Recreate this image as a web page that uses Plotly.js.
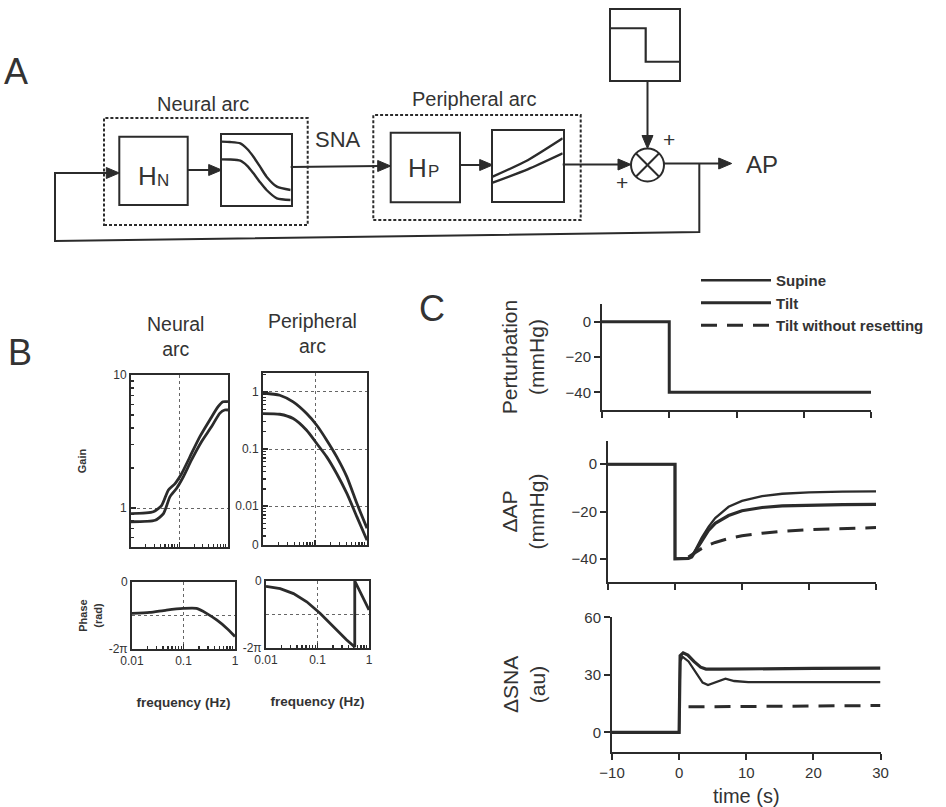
<!DOCTYPE html>
<html><head><meta charset="utf-8">
<script src="https://cdn.plot.ly/plotly-3.0.1.min.js"></script>
<style>html,body{margin:0;padding:0;background:#fff;}#chart{width:946px;height:807px;}</style>
</head><body><div id="chart"></div>
<script>
const W = 946, H = 807;
const P = x => x / W;
const Q = y => 1 - y / H;
const ink = '#2b2b2b';
const txtc = '#333';

// ---------- Panel A: schematic curves (normalised box units) ----------
const sigX = [0, 0.12, 0.27, 0.37, 0.46, 0.56, 0.65, 0.8, 1];
const sigUpper = [0.905, 0.9, 0.881, 0.8, 0.69, 0.54, 0.405, 0.262, 0.214];
const sigLower = [0.652, 0.65, 0.633, 0.56, 0.452, 0.32, 0.214, 0.095, 0.071];
const linX = [0, 0.5, 1];
const linUpper = [0.346, 0.58, 0.891];
const linLower = [0.261, 0.45, 0.678];
const stepX = [0, 0.51, 0.51, 1];
const stepY = [0.739, 0.739, 0.261, 0.261];

// ---------- Panel B: frequency responses ----------
const fNeuralUpper = [0.01, 0.029, 0.043, 0.059, 0.081, 0.111, 0.164, 0.263, 0.421, 0.624, 0.79, 1];
const gNeuralUpper = [0.91, 0.94, 1.05, 1.37, 1.53, 1.82, 2.43, 3.44, 4.59, 5.78, 6.3, 6.3];
const fNeuralLower = [0.01, 0.0315, 0.0467, 0.0638, 0.0874, 0.12, 0.177, 0.284, 0.456, 0.675, 0.855, 1];
const gNeuralLower = [0.79, 0.81, 0.91, 1.22, 1.41, 1.72, 2.3, 3.15, 4.08, 5.15, 5.46, 5.46];
const fPeriph = [0.01, 0.021, 0.038, 0.069, 0.108, 0.168, 0.262, 0.41, 0.64, 1];
const gPeriphUpper = [0.96, 0.875, 0.668, 0.418, 0.261, 0.143, 0.073, 0.0326, 0.0111, 0.0041];
const gPeriphLower = [0.418, 0.407, 0.342, 0.213, 0.125, 0.073, 0.037, 0.0167, 0.0065, 0.00254];
const fPhaseNeural = [0.01, 0.022, 0.0467, 0.0986, 0.179, 0.28, 0.44, 0.689, 1];
const phNeural = [-2.94, -2.85, -2.63, -2.48, -2.48, -2.94, -3.56, -4.33, -5.11];
const fPhasePeriph = [0.01, 0.0189, 0.0342, 0.0618, 0.112, 0.202, 0.365, 0.529, 0.529, 1];
const phPeriph = [-0.495, -0.71, -1.18, -1.95, -3.03, -4.27, -5.51, -6.19, 0, -2.72];

const freqTicks = [0.01, 0.1, 1];
const freqTickText = ['0.01', '0.1', '1'];
const freqMinor = [0.02, 0.03, 0.04, 0.05, 0.06, 0.07, 0.08, 0.09, 0.2, 0.3, 0.4, 0.5, 0.6, 0.7, 0.8, 0.9];
const neuralGainTicks = [1, 10];
const neuralGainTickText = ['1', '10'];
const neuralGainMinor = [0.6, 0.7, 0.8, 0.9, 2, 3, 4, 5, 6, 7, 8, 9];
const periphGainTicks = [0.0021, 0.01, 0.1, 1];
const periphGainTickText = ['0', '0.01', '0.1', '1'];
const periphGainMinor = [0.003, 0.004, 0.005, 0.006, 0.007, 0.008, 0.009, 0.02, 0.03, 0.04, 0.05, 0.06, 0.07, 0.08, 0.09, 0.2, 0.3, 0.4, 0.5, 0.6, 0.7, 0.8, 0.9, 2];
const phaseTicks = [-2 * Math.PI, 0];
const phaseTickText = ['-2π', '0'];
const phaseGrid = -Math.PI;

// ---------- Panel C: time responses ----------
const tPerturb = [-10, 0, 0, 30];
const perturbation = [0, 0, -40, -40];
const tAP = [-10, 0, 0, 1, 2, 2.5, 3, 4, 5, 6, 8, 10, 13, 16, 20, 25, 30];
const apSupine = [0, 0, -40, -40, -39.8, -38.9, -36.5, -31, -26.5, -22.8, -18, -15.5, -13.5, -12.5, -11.9, -11.6, -11.5];
const apTilt = [0, 0, -40, -40, -39.8, -39.2, -37, -32, -28, -25, -21.7, -19.7, -18.3, -17.6, -17.3, -17.1, -17];
const tAPnr = [2, 3, 4, 5, 6, 8, 10, 13, 16, 20, 25, 30];
const apTiltNoReset = [-39.3, -37.5, -35.6, -34.2, -33.1, -31.4, -30.3, -29.2, -28.4, -27.7, -27.2, -26.8];
const tSnaSupine = [-10, 0, 0.15, 0.5, 1.4, 2.5, 3.5, 4.3, 5.3, 6.9, 8.2, 10.3, 20, 30];
const snaSupine = [0, 0, 37, 39.5, 37, 31, 26, 24.7, 26, 28, 26.8, 26.2, 26.2, 26.2];
const tSnaTilt = [-10, 0, 0.15, 0.6, 1.3, 2.2, 3.2, 4, 6, 10, 20, 30];
const snaTilt = [0, 0, 40, 41.5, 40.3, 37, 34, 33, 33, 33.2, 33.4, 33.5];
const tSnaNr = [1.4, 15, 30];
const snaTiltNoReset = [13.3, 13.7, 14.0];
const timeTicks = [-10, 0, 10, 20, 30];
const pressureTicks = [0, -20, -40];
const snaTicks = [0, 30, 60];

const wSupine = 2.3, wTilt = 3.2, wB = 2.8;
const dashNR = '16px,10px';

function tr(x, y, xa, ya, opts) {
  return Object.assign({type: 'scatter', mode: 'lines', x, y, xaxis: xa, yaxis: ya,
    line: {color: ink, width: 2.6}, showlegend: false, hoverinfo: 'skip'}, opts || {});
}
const sp = {shape: 'spline', smoothing: 0.6};

const data = [
  tr(tPerturb, perturbation, 'x', 'y', {name: 'Perturbation', line: {color: ink, width: 3}}),
  tr(tAP, apSupine, 'x2', 'y2', {name: 'Supine', showlegend: true, line: {color: ink, width: wSupine}}),
  tr(tAP, apTilt, 'x2', 'y2', {name: 'Tilt', showlegend: true, line: {color: ink, width: wTilt}}),
  tr(tAPnr, apTiltNoReset, 'x2', 'y2', {name: 'Tilt without resetting', showlegend: true, line: {color: ink, width: 3, dash: dashNR}}),
  tr(tSnaSupine, snaSupine, 'x3', 'y3', {name: 'Supine', line: {color: ink, width: wSupine}}),
  tr(tSnaTilt, snaTilt, 'x3', 'y3', {name: 'Tilt', line: {color: ink, width: wTilt}}),
  tr(tSnaNr, snaTiltNoReset, 'x3', 'y3', {name: 'Tilt without resetting', line: {color: ink, width: 3, dash: dashNR}}),
  tr(fNeuralUpper, gNeuralUpper, 'x4', 'y4', {name: 'Neural gain 1', line: Object.assign({color: ink, width: wB}, sp)}),
  tr(fNeuralLower, gNeuralLower, 'x4', 'y4', {name: 'Neural gain 2', line: Object.assign({color: ink, width: wB}, sp)}),
  tr(fPeriph, gPeriphUpper, 'x5', 'y5', {name: 'Peripheral gain 1', line: Object.assign({color: ink, width: wB}, sp)}),
  tr(fPeriph, gPeriphLower, 'x5', 'y5', {name: 'Peripheral gain 2', line: Object.assign({color: ink, width: wB}, sp)}),
  tr(fPhaseNeural, phNeural, 'x6', 'y6', {name: 'Neural phase', line: Object.assign({color: ink, width: wB}, sp)}),
  tr(fPhasePeriph, phPeriph, 'x7', 'y7', {name: 'Peripheral phase', line: {color: ink, width: wB}}),
  tr(sigX, sigUpper, 'x8', 'y8', {name: 'sigmoid 1', line: Object.assign({color: ink, width: 2.4}, sp)}),
  tr(sigX, sigLower, 'x8', 'y8', {name: 'sigmoid 2', line: Object.assign({color: ink, width: 2.4}, sp)}),
  tr(linX, linUpper, 'x9', 'y9', {name: 'linear 1', line: Object.assign({color: ink, width: 2.4}, sp)}),
  tr(linX, linLower, 'x9', 'y9', {name: 'linear 2', line: Object.assign({color: ink, width: 2.4}, sp)}),
  tr(stepX, stepY, 'x10', 'y10', {name: 'step', line: {color: ink, width: 2.2}})
];

const xd = (a, b) => [P(a), P(b)];
const yd = (top, bot) => [Q(bot), Q(top)];
const FONT = 'Liberation Sans, Arial, Helvetica, sans-serif';

function cx(dom, anchor, labels, title) {
  const a = {domain: dom, anchor, range: [-10, 30], showline: true, linewidth: 2, linecolor: ink,
    ticks: 'outside', ticklen: 6, tickwidth: 2, tickcolor: ink, tickmode: 'array', tickvals: timeTicks,
    showticklabels: labels, showgrid: false, zeroline: false, tickfont: {size: 15, color: txtc}};
  if (title) a.title = {text: title, font: {size: 20, color: txtc}, standoff: 12};
  return a;
}
function cy(dom, anchor, range, vals, title, standoff) {
  return {domain: dom, anchor, range, showline: true, linewidth: 2, linecolor: ink,
    ticks: 'outside', ticklen: 6, tickwidth: 2, tickcolor: ink, tickmode: 'array', tickvals: vals,
    showgrid: false, zeroline: false, tickfont: {size: 15, color: txtc},
    title: {text: title, font: {size: 21, color: txtc}, standoff}};
}
function bx(dom, anchor, labels, title) {
  const a = {domain: dom, anchor, type: 'log', range: [-2, 0], showline: true, mirror: true,
    linewidth: 2, linecolor: ink, ticks: 'inside', ticklen: 5, tickwidth: 1.5, tickcolor: ink,
    tickmode: 'array', tickvals: freqTicks, ticktext: freqTickText, showticklabels: labels,
    minor: {tickmode: 'array', tickvals: freqMinor, ticks: 'inside', ticklen: 3, tickwidth: 1.2, tickcolor: ink, showgrid: false},
    showgrid: true, gridcolor: '#666', gridwidth: 1, griddash: 'dot', zeroline: false,
    tickfont: {size: 12, color: txtc}};
  if (title) a.title = {text: title, font: {size: 13.5, color: txtc, weight: 'bold'}, standoff: 30};
  return a;
}
function bgain(dom, anchor, range, vals, text, minorVals, title) {
  const a = {domain: dom, anchor, type: 'log', range, showline: true, mirror: true,
    linewidth: 2, linecolor: ink, ticks: 'inside', ticklen: 5, tickwidth: 1.5, tickcolor: ink,
    tickmode: 'array', tickvals: vals, ticktext: text,
    minor: {tickmode: 'array', tickvals: minorVals, ticks: 'inside', ticklen: 3, tickwidth: 1.2, tickcolor: ink, showgrid: false},
    showgrid: true, gridcolor: '#666', gridwidth: 1, griddash: 'dot', zeroline: false,
    tickfont: {size: 12, color: txtc}};
  if (title) a.title = {text: title, font: {size: 11, color: txtc, weight: 'bold'}, standoff: 24};
  return a;
}
function bphase(dom, anchor, title) {
  const a = {domain: dom, anchor, range: [-2 * Math.PI, 0], showline: true, mirror: true,
    linewidth: 2, linecolor: ink, ticks: '', tickmode: 'array', tickvals: phaseTicks, ticktext: phaseTickText,
    showgrid: false, zeroline: false, tickfont: {size: 12, color: txtc}};
  if (title) a.title = {text: title, font: {size: 11, color: txtc, weight: 'bold'}, standoff: 4};
  return a;
}
function mini(dom, anchor) {
  return {domain: dom, anchor, range: [0, 1], showline: true, mirror: true, linewidth: 2, linecolor: ink,
    ticks: '', showticklabels: false, showgrid: false, zeroline: false, fixedrange: true};
}

// ---------- schematic shapes (pixel positions converted to paper) ----------
function path(pts, opts) {
  return Object.assign({type: 'path', xref: 'paper', yref: 'paper', layer: 'above',
    path: 'M' + pts.map(p => P(p[0]).toFixed(5) + ',' + Q(p[1]).toFixed(5)).join('L'),
    line: {color: ink, width: 2}}, opts || {});
}
function head(tx, ty, dir) {
  const L = 13, h = 5.5;
  const pts = dir === 'r' ? [[tx, ty], [tx - L, ty - h], [tx - L, ty + h]] : [[tx, ty], [tx - h, ty - L], [tx + h, ty - L]];
  const s = path(pts, {fillcolor: ink, line: {color: ink, width: 1}});
  s.path += 'Z';
  return s;
}
function rect(x0, y0, x1, y1, opts) {
  return Object.assign({type: 'rect', xref: 'paper', yref: 'paper', x0: P(x0), x1: P(x1), y0: Q(y1), y1: Q(y0),
    line: {color: ink, width: 2}}, opts || {});
}
function phaseGridLine(xa, ya) {
  return {type: 'line', xref: xa + ' domain', yref: ya, x0: 0, x1: 1, y0: phaseGrid, y1: phaseGrid,
    line: {color: '#666', width: 1, dash: 'dot'}, layer: 'below'};
}
const cxs = 647.5, cys = 165, r = 16.5, d = r * 0.7071;
const shapes = [
  rect(104, 118, 307.7, 225, {line: {color: ink, width: 2, dash: '3px,2px'}}),
  rect(373.3, 115, 580.7, 220, {line: {color: ink, width: 2, dash: '3px,2px'}}),
  rect(119.3, 136.7, 187.7, 205),
  rect(390.7, 132.7, 460, 202.3),
  path([[699.3, 163.5], [699.3, 232], [55, 241], [55, 173], [108, 173]]),
  head(119.3, 173, 'r'),
  path([[187.7, 170], [212, 170]]), head(221.7, 170, 'r'),
  path([[290.7, 167], [380, 166]]), head(390.7, 166, 'r'),
  path([[460, 165], [482, 165]]), head(492.7, 165, 'r'),
  path([[562.7, 164.5], [621, 164.5]]), head(cxs - r, 164.5, 'r'),
  path([[cxs, 80], [cxs, 138]]), head(cxs, cys - r, 'd'),
  path([[cxs + r, 163.5], [721, 163.5]]), head(731.7, 163.5, 'r'),
  {type: 'circle', xref: 'paper', yref: 'paper', x0: P(cxs - r), x1: P(cxs + r), y0: Q(cys + r), y1: Q(cys - r), line: {color: ink, width: 2}},
  path([[cxs - d, cys - d], [cxs + d, cys + d]]),
  path([[cxs - d, cys + d], [cxs + d, cys - d]]),
  phaseGridLine('x6', 'y6'),
  phaseGridLine('x7', 'y7')
];

function note(text, x, y, size, extra) {
  return Object.assign({text, x: P(x), y: Q(y), xref: 'paper', yref: 'paper', showarrow: false,
    xanchor: 'center', yanchor: 'middle', font: {size, color: txtc, family: FONT}}, extra || {});
}
const annotations = [
  note('A', 16, 71, 36),
  note('B', 20, 352, 36),
  note('C', 432, 308, 36),
  note('Neural arc', 203, 104, 20),
  note('Peripheral arc', 474, 99, 20),
  note('SNA', 338, 140, 22),
  note('H', 147.5, 176, 26),
  note('N', 163, 181, 17),
  note('H', 417.5, 168, 26),
  note('P', 433, 172, 17),
  note('+', 669, 140, 21),
  note('+', 622, 182, 21),
  note('AP', 762, 164, 24),
  note('Neural<br>arc', 175, 336, 19.5),
  note('Peripheral<br>arc', 312, 334, 19.5)
];

const layout = {
  width: W, height: H, margin: {l: 0, r: 0, t: 0, b: 0},
  paper_bgcolor: '#fff', plot_bgcolor: 'rgba(0,0,0,0)',
  font: {family: FONT, color: txtc},
  showlegend: true,
  legend: {x: P(696), y: Q(264), xanchor: 'left', yanchor: 'top', itemwidth: 70,
    font: {size: 15, color: txtc, weight: 'bold'}, bgcolor: 'rgba(0,0,0,0)', borderwidth: 0, tracegroupgap: 0},
  xaxis: cx(xd(602, 871), 'y', false),
  yaxis: cy(yd(304, 410), 'x', [-50, 10], pressureTicks, 'Perturbation<br>(mmHg)', 15),
  xaxis2: cx(xd(608, 876), 'y2', false),
  yaxis2: cy(yd(440.6, 582.4), 'x2', [-50, 10], pressureTicks, 'ΔAP<br>(mmHg)', 21),
  xaxis3: cx(xd(612, 880.5), 'y3', true, 'time (s)'),
  yaxis3: cy(yd(617.4, 751.5), 'x3', [-10, 60], snaTicks, 'ΔSNA<br>(au)', 33),
  xaxis4: bx(xd(131, 228), 'y4', false),
  yaxis4: bgain(yd(375, 547), 'x4', [-0.292, 1], neuralGainTicks, neuralGainTickText, neuralGainMinor, 'Gain'),
  xaxis5: bx(xd(263, 367), 'y5', false),
  yaxis5: bgain(yd(373, 545), 'x5', [-2.68, 0.332], periphGainTicks, periphGainTickText, periphGainMinor),
  xaxis6: bx(xd(132, 235), 'y6', true, 'frequency (Hz)'),
  yaxis6: bphase(yd(582, 649), 'x6', 'Phase<br>(rad)'),
  xaxis7: bx(xd(266, 369), 'y7', true, 'frequency (Hz)'),
  yaxis7: bphase(yd(581, 648), 'x7'),
  xaxis8: mini(xd(221.7, 290.7), 'y8'), yaxis8: mini(yd(135, 205), 'x8'),
  xaxis9: mini(xd(492.7, 562.7), 'y9'), yaxis9: mini(yd(130.7, 201), 'x9'),
  xaxis10: mini(xd(610.7, 679.3), 'y10'), yaxis10: mini(yd(10, 80), 'x10'),
  shapes, annotations
};

Plotly.newPlot('chart', data, layout, {displayModeBar: false, staticPlot: true});
</script>
</body></html>
